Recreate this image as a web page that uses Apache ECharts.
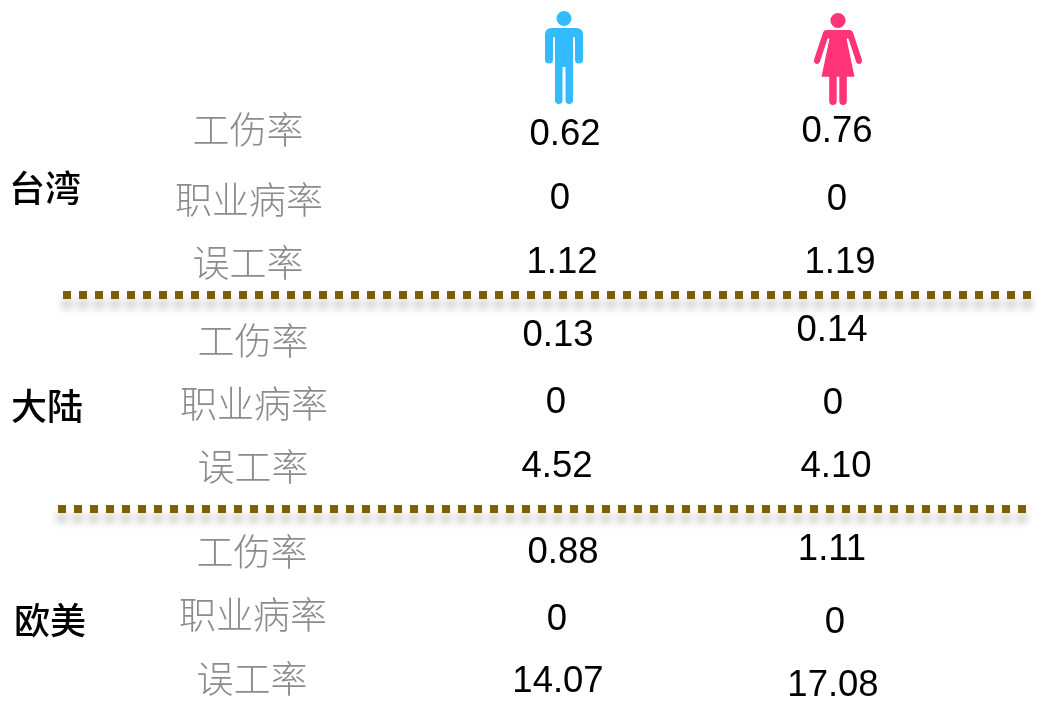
<!DOCTYPE html>
<html>
<head>
<meta charset="utf-8">
<title>工伤率</title>
<style>
html, body { margin: 0; padding: 0; background: #fff; }
#chartmain { width: 1041px; height: 707px; }
</style>
<script src="https://cdn.jsdelivr.net/npm/echarts@6/dist/echarts.min.js"></script>
</head>
<body>
<div id="chartmain"></div>
<script>
// data
var regions = ['台湾', '大陆', '欧美'];
var metrics = ['工伤率', '职业病率', '误工率', '工伤率', '职业病率', '误工率', '工伤率', '职业病率', '误工率'];
var maleValues = ['0.62', '0', '1.12', '0.13', '0', '4.52', '0.88', '0', '14.07'];
var femaleValues = ['0.76', '0', '1.19', '0.14', '0', '4.10', '1.11', '0', '17.08'];

// layout: rows of the table, column centres, and the small shifts each cell has in the slide
var rows = ['icon', 'r0', 'r1', 'r2', 'r3', 'r4', 'r5', 'r6', 'r7', 'r8'];
var regionRows = ['r1', 'r4', 'r7'];
var colRegion = 47, colMetric = 250, colMale = 560, colFemale = 835, colMaleIcon = 564, colFemaleIcon = 838;
var regionShift = [[-2, -9], [0, 5], [3, 15]];
var metricShift = [[-2, 1], [-1, 3], [-2, -2], [3, 8], [4, 3], [3, -2], [2, 15], [3, 10], [2, 6]];
var maleShift = [[5, 6], [0, 2], [2, -2], [-2, 3], [-4, 2], [-3, -2], [3, 16], [-3, 15], [-2, 9]];
var femaleShift = [[2, 3], [2, 3], [5, -2], [-3, -2], [-2, 3], [1, -2], [-3, 13], [0, 18], [-2, 13]];

var manPath = 'path://M11.5 7.5A7.5 7.5 0 1 1 26.5 7.5A7.5 7.5 0 1 1 11.5 7.5ZM7 17H31Q38 17 38 24V49Q38 52.5 34 52.5Q30 52.5 30 49V27Q30 26 29 26Q28 26 28 27V89Q28 93 24 93Q20.5 93 20.5 89V56H17.5V89Q17.5 93 14 93Q10 93 10 89V27Q10 26 9 26Q8 26 8 27V49Q8 52.5 4 52.5Q0 52.5 0 49V24Q0 17 7 17Z';
var womanPath = 'path://M16.5 7.5A7.5 7.5 0 1 1 31.5 7.5A7.5 7.5 0 1 1 16.5 7.5ZM13 17H35Q38 17 39 20L47.5 46Q48.5 50 45.5 51Q43 51.5 42 49L34.5 26Q34 25 33 25.5Q32.5 26 32.7 27L40.3 63.7H32.7V88Q32.7 92 29 92Q25.3 92 25.3 88V63.7H22.7V88Q22.7 92 19 92Q15.3 92 15.3 88V63.7H7.7L15.3 27Q15.5 26 15 25.5Q14 25 13.5 26L6 49Q5 51.5 2.5 51Q-0.5 50 0.5 46L9 20Q10 17 13 17Z';

// one text cell per row, the text is carried in the third column of the data
function cells(x, texts, shift, names) {
	return texts.map(function(t, i) {
		return {
			value : [x, names ? names[i] : rows[i + 1], t],
			label : { offset : shift[i] }
		};
	});
}

function textSeries(data, font, size, color, weight) {
	return {
		type : 'scatter',
		symbolSize : 0,
		silent : true,
		itemStyle : { opacity : 1 },
		data : data,
		label : {
			show : true,
			position : 'inside',
			align : 'center',
			verticalAlign : 'middle',
			opacity : 1,
			fontFamily : font,
			fontSize : size,
			fontWeight : weight,
			color : color,
			formatter : function(p) { return p.value[2]; }
		}
	};
}

var cjk = '"Noto Sans CJK SC"';
var latin = '"Liberation Sans"';

var dotted = {
	color : '#7f6000',
	opacity : 1,
	width : 8,
	type : [8, 8],
	cap : 'butt',
	shadowColor : 'rgba(0,0,0,0.3)',
	shadowBlur : 8,
	shadowOffsetY : 9
};

var option = {
	animation : false,
	backgroundColor : '#fff',
	grid : { left : 0, top : 27, width : 1041, height : 680 },
	xAxis : { type : 'value', min : 0, max : 1041, show : false },
	yAxis : { type : 'category', data : rows, inverse : true, show : false },
	series : [
		textSeries(cells(colRegion, regions, regionShift, regionRows), cjk, 36, '#000', 500),
		textSeries(cells(colMetric, metrics, metricShift), cjk, 37, '#8c8c8c', 300),
		textSeries(cells(colMale, maleValues, maleShift), latin, 36.5, '#000', 'normal'),
		textSeries(cells(colFemale, femaleValues, femaleShift), latin, 36.5, '#000', 'normal'),
		{
			type : 'scatter',
			silent : true,
			symbol : manPath,
			symbolSize : [38, 93],
			symbolOffset : [0, -3.5],
			itemStyle : { color : '#33bbff', opacity : 1 },
			data : [[colMaleIcon, 'icon']]
		},
		{
			type : 'scatter',
			silent : true,
			symbol : womanPath,
			symbolSize : [48, 92],
			symbolOffset : [0, -2],
			itemStyle : { color : '#ff3377', opacity : 1 },
			data : [[colFemaleIcon, 'icon']]
		},
		{
			type : 'scatter',
			silent : true,
			symbolSize : 0,
			data : [],
			markLine : {
				silent : true,
				symbol : 'none',
				label : { show : false },
				lineStyle : dotted,
				data : [
					[{ x : 63, y : 295 }, { x : 1032, y : 295 }],
					[{ x : 58, y : 509 }, { x : 1027, y : 509 }]
				]
			}
		}
	]
};

var myChart = echarts.init(document.getElementById('chartmain'));
myChart.setOption(option);
</script>
</body>
</html>
